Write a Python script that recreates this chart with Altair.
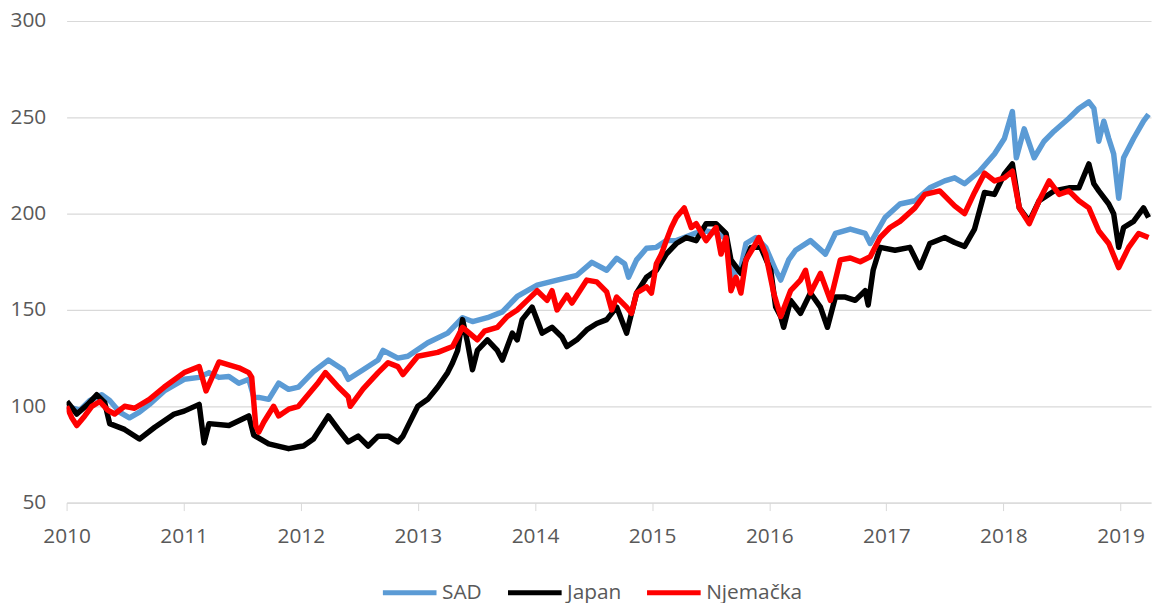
import altair as alt
import pandas as pd

# ---- data (decimal year, index value) ----
sad_t = [2010.000, 2010.113, 2010.198, 2010.300, 2010.368, 2010.452, 2010.537, 2010.622, 2010.707, 2010.834,
         2011.004, 2011.132, 2011.216, 2011.301, 2011.386, 2011.471, 2011.556, 2011.598, 2011.641, 2011.726,
         2011.811, 2011.896, 2011.980, 2012.108, 2012.235, 2012.362, 2012.405, 2012.532, 2012.660, 2012.702,
         2012.829, 2012.914, 2013.084, 2013.254, 2013.381, 2013.466, 2013.593, 2013.721, 2013.848, 2014.018,
         2014.188, 2014.357, 2014.485, 2014.612, 2014.697, 2014.765, 2014.799, 2014.867, 2014.952, 2015.036,
         2015.121, 2015.206, 2015.291, 2015.376, 2015.461, 2015.546, 2015.631, 2015.690, 2015.758, 2015.801,
         2015.885, 2015.970, 2016.055, 2016.098, 2016.166, 2016.225, 2016.352, 2016.480, 2016.565, 2016.692,
         2016.819, 2016.862, 2016.989, 2017.116, 2017.244, 2017.371, 2017.498, 2017.583, 2017.668, 2017.795,
         2017.923, 2018.008, 2018.076, 2018.110, 2018.177, 2018.262, 2018.347, 2018.432, 2018.559, 2018.644,
         2018.729, 2018.772, 2018.814, 2018.857, 2018.899, 2018.941, 2018.984, 2019.026, 2019.111, 2019.196,
         2019.239]
sad_v = [100, 98, 103, 106, 103, 97, 94, 97, 101, 108,
         114, 115, 117.5, 115, 115.5, 112, 114, 105, 104.6, 103.6,
         112, 108.8, 110, 118, 124, 119, 114, 119, 124, 129,
         125, 126, 133, 138, 146, 144, 146, 149, 157, 162.9,
         165.5, 168, 174.7, 170.6, 176.8, 174, 167, 176, 182, 182.5,
         186, 186, 188, 190, 191, 190, 187, 168, 172, 184.5,
         187.6, 182.5, 170.6, 165.5, 176, 181, 186, 179, 189.7, 192,
         189.7, 184.5, 198, 205, 206.7, 213.4, 217, 218.6, 215.5, 222,
         231, 239, 253, 229, 244, 229, 237.6, 242.8, 249.5, 254.6,
         258, 254.6, 237.6, 248, 239, 231, 208, 229, 239, 248,
         251.5]

japan_t = [2010.003, 2010.087, 2010.181, 2010.257, 2010.325, 2010.368, 2010.495, 2010.622, 2010.750, 2010.919,
           2011.004, 2011.132, 2011.174, 2011.216, 2011.386, 2011.556, 2011.598, 2011.726, 2011.896, 2011.980,
           2012.023, 2012.108, 2012.235, 2012.320, 2012.405, 2012.490, 2012.575, 2012.660, 2012.745, 2012.829,
           2012.872, 2012.914, 2012.999, 2013.084, 2013.169, 2013.254, 2013.296, 2013.339, 2013.381, 2013.424,
           2013.466, 2013.508, 2013.593, 2013.678, 2013.721, 2013.806, 2013.848, 2013.890, 2013.975, 2014.060,
           2014.145, 2014.230, 2014.272, 2014.357, 2014.442, 2014.527, 2014.612, 2014.697, 2014.782, 2014.867,
           2014.952, 2015.036, 2015.121, 2015.206, 2015.291, 2015.376, 2015.461, 2015.546, 2015.631, 2015.673,
           2015.758, 2015.843, 2015.928, 2016.013, 2016.055, 2016.098, 2016.123, 2016.182, 2016.267, 2016.352,
           2016.437, 2016.497, 2016.565, 2016.649, 2016.734, 2016.819, 2016.845, 2016.887, 2016.947, 2017.074,
           2017.201, 2017.286, 2017.371, 2017.498, 2017.583, 2017.668, 2017.753, 2017.838, 2017.923, 2018.008,
           2018.076, 2018.135, 2018.220, 2018.305, 2018.432, 2018.559, 2018.644, 2018.729, 2018.772, 2018.814,
           2018.899, 2018.941, 2018.984, 2019.026, 2019.111, 2019.196, 2019.239]
japan_v = [102.5, 96, 101, 106, 102, 91, 88, 83, 89, 96,
           97.5, 101, 81, 91, 90, 95, 85, 80.5, 78, 79,
           79.4, 83, 95, 88, 81.5, 84.5, 79.4, 84.5, 84.5, 81.5,
           84.5, 89.7, 100, 103.6, 110, 117.5, 122.6, 129, 145, 133,
           119, 129, 134.5, 129, 124, 138, 134.5, 145, 151.5, 138,
           141, 136, 131, 134.5, 139.7, 143, 145, 151.5, 138, 158.8,
           167, 170.6, 179, 184.5, 187.6, 186, 194.8, 194.8, 189.7, 176,
           169, 182.5, 182.5, 170.6, 151.5, 146.6, 141, 155, 148.3, 158.8,
           151.5, 141, 156.7, 156.7, 155, 160, 152.6, 170.6, 182.5, 181,
           182.5, 172, 184.5, 187.6, 185, 183, 192, 211, 210, 220.6,
           225.8, 203, 196, 206.7, 211.8, 213.4, 213.4, 225.8, 215.5, 211.8,
           205, 200, 182.5, 192.8, 196, 203, 198]

de_t = [2010.000, 2010.045, 2010.087, 2010.155, 2010.215, 2010.283, 2010.351, 2010.410, 2010.495, 2010.580,
        2010.707, 2010.834, 2011.004, 2011.132, 2011.191, 2011.301, 2011.471, 2011.556, 2011.581, 2011.615,
        2011.641, 2011.683, 2011.768, 2011.811, 2011.896, 2011.980, 2012.150, 2012.210, 2012.320, 2012.405,
        2012.422, 2012.532, 2012.660, 2012.745, 2012.829, 2012.872, 2012.999, 2013.169, 2013.296, 2013.339,
        2013.381, 2013.508, 2013.568, 2013.678, 2013.763, 2013.848, 2013.933, 2014.018, 2014.103, 2014.145,
        2014.188, 2014.272, 2014.315, 2014.442, 2014.527, 2014.612, 2014.655, 2014.697, 2014.782, 2014.824,
        2014.867, 2014.952, 2014.994, 2015.036, 2015.079, 2015.121, 2015.164, 2015.206, 2015.274, 2015.334,
        2015.376, 2015.461, 2015.546, 2015.588, 2015.631, 2015.673, 2015.716, 2015.758, 2015.801, 2015.885,
        2015.911, 2015.970, 2016.038, 2016.098, 2016.182, 2016.267, 2016.310, 2016.352, 2016.437, 2016.522,
        2016.607, 2016.692, 2016.777, 2016.862, 2016.947, 2017.031, 2017.116, 2017.244, 2017.329, 2017.456,
        2017.583, 2017.668, 2017.753, 2017.838, 2017.923, 2018.008, 2018.076, 2018.135, 2018.220, 2018.305,
        2018.390, 2018.475, 2018.559, 2018.644, 2018.729, 2018.814, 2018.899, 2018.984, 2019.069, 2019.154,
        2019.239]
de_v = [100, 94, 90, 95, 100, 102.5, 98, 96, 100, 99,
        103.6, 110, 117.5, 120.6, 108, 123, 120, 117.5, 115, 90,
        86.6, 91.7, 100, 95, 98.5, 100, 112.4, 117.5, 110, 105,
        100, 109, 117.5, 122.6, 120.6, 116.5, 126, 128, 131, 136,
        141, 134.5, 139, 141, 146.6, 150, 155, 160, 155, 160,
        150, 157.7, 153.6, 165.5, 164.6, 159.4, 150, 156.7, 151.5, 148.3,
        158.8, 162, 158.8, 174, 179, 186, 192.8, 198, 203, 192.8,
        194.8, 186, 192.8, 179, 187.6, 160, 167, 158.8, 176, 184.5,
        187.6, 179, 158.8, 146.6, 160, 165.5, 170.6, 158.8, 169, 155,
        176, 177, 175, 177.6, 187.6, 192.8, 196, 203, 210, 211.8,
        204, 200, 211, 221, 217, 218.6, 222, 203, 194.8, 206.7,
        217, 210, 211.8, 206.7, 203, 191, 184.5, 172, 182.5, 189.7,
        187.6]

series_names = ["SAD", "Japan", "Njemačka"]
series_colors = ["#5B9BD5", "#000000", "#FF0000"]
year_ticks = list(range(2010, 2020))
value_ticks = [50, 100, 150, 200, 250, 300]

frames = []
for name, t, v in zip(series_names, [sad_t, japan_t, de_t], [sad_v, japan_v, de_v]):
    frames.append(pd.DataFrame({"t": t, "v": v, "serija": name}))
df = pd.concat(frames, ignore_index=True)

FONT = "Open Sans"
TXT = "#595959"
GRID = "#D9D9D9"

chart = alt.Chart(df).mark_line(strokeWidth=5.5, strokeJoin="round", clip=True).encode(
    x=alt.X("t:Q",
            scale=alt.Scale(domain=[2010, 2019.26], nice=False, zero=False),
            axis=alt.Axis(values=year_ticks, format="d", title=None, grid=False,
                          domain=True, domainColor=GRID, domainWidth=1,
                          ticks=True, tickColor=GRID, tickSize=8, tickWidth=1,
                          labelFont=FONT, labelFontSize=21, labelColor=TXT,
                          labelPadding=15, labelFlush=False)),
    y=alt.Y("v:Q",
            scale=alt.Scale(domain=[50, 300], nice=False, zero=False),
            axis=alt.Axis(values=value_ticks, title=None, grid=True, gridColor=GRID,
                          gridWidth=1.2, domain=False, ticks=False,
                          labelFont=FONT, labelFontSize=21, labelColor=TXT,
                          labelPadding=21)),
    color=alt.Color("serija:N",
                    scale=alt.Scale(domain=series_names, range=series_colors),
                    sort=series_names,
                    legend=alt.Legend(title=None, orient="none", legendX=316, legendY=546,
                                      direction="horizontal", symbolType="stroke",
                                      symbolSize=2916, symbolStrokeWidth=5,
                                      labelFont=FONT, labelFontSize=21, labelColor=TXT,
                                      labelOffset=3, columnPadding=15)),
    order=alt.Order("t:Q"),
).properties(
    width=1092, height=485,
    autosize=alt.AutoSizeParams(type="none"),
    padding={"left": 59, "top": 11, "right": 3, "bottom": 100},
).configure_view(stroke=None)

chart.save("out.html", embed_options={"renderer": "svg", "actions": False})
